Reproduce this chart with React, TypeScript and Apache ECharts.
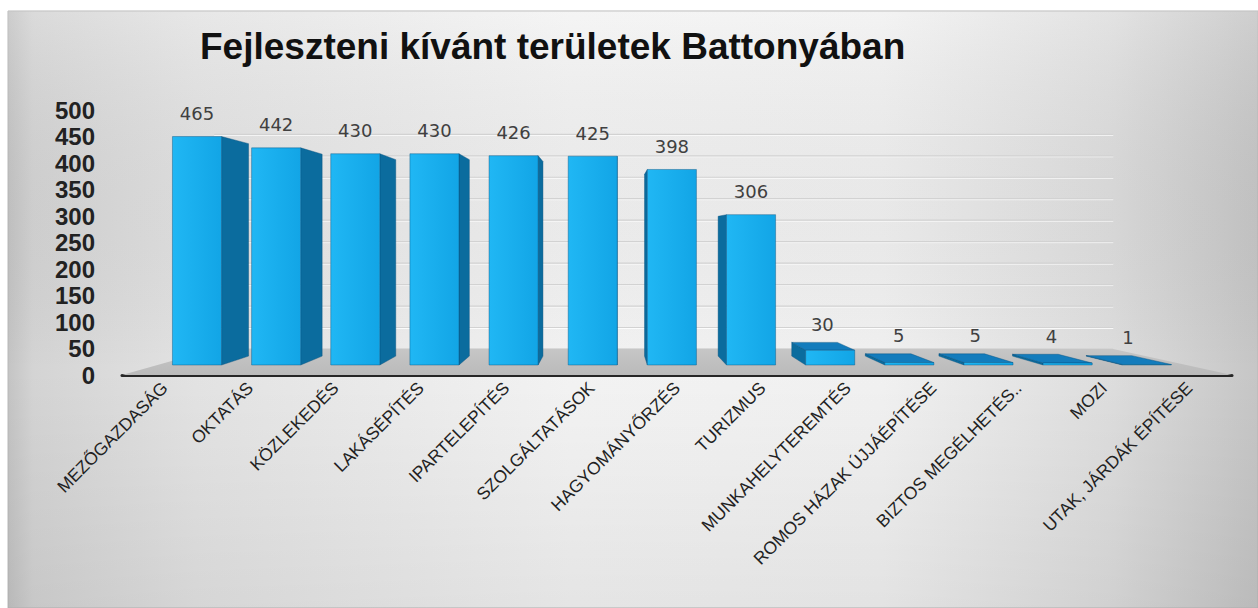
import React, { useEffect, useRef } from "react";
import * as echarts from "echarts";

const TITLE = "Fejleszteni kívánt területek Battonyában";
const CATEGORIES = [
  "MEZŐGAZDASÁG",
  "OKTATÁS",
  "KÖZLEKEDÉS",
  "LAKÁSÉPÍTÉS",
  "IPARTELEPÍTÉS",
  "SZOLGÁLTATÁSOK",
  "HAGYOMÁNYŐRZÉS",
  "TURIZMUS",
  "MUNKAHELYTEREMTÉS",
  "ROMOS HÁZAK ÚJJÁÉPÍTÉSE",
  "BIZTOS MEGÉLHETÉS..",
  "MOZI",
  "UTAK, JÁRDÁK ÉPÍTÉSE",
];
const VALUES = [465, 442, 430, 430, 426, 425, 398, 306, 30, 5, 5, 4, 1];
const Y_MIN = 0;
const Y_MAX = 500;
const Y_STEP = 50;
const Y_TICKS = [0, 50, 100, 150, 200, 250, 300, 350, 400, 450, 500];

// perspective (vanishing point and depth scales)
const VX = 607;
const VY = 238;
const K_FRONT = 0.927;
const K_BACK = 0.862;
const K_WALL = 0.81;
const BAR_RATIO = 0.62;

const P = (x: number, y: number, k: number) => [VX + (x - VX) * k, VY + (y - VY) * k];

function renderBar(params: any, api: any) {
  const i = api.value(0);
  const v = api.value(1);
  const top = api.coord([i, v]);
  const base = api.coord([i, 0]);
  const band = api.size([1, 0])[0];
  const hw = (band * BAR_RATIO) / 2;
  const l = top[0] - hw;
  const r = top[0] + hw;
  const t = top[1];
  const b = base[1];
  const fTL = P(l, t, K_FRONT), fTR = P(r, t, K_FRONT), fBL = P(l, b, K_FRONT), fBR = P(r, b, K_FRONT);
  const bTL = P(l, t, K_BACK), bTR = P(r, t, K_BACK), bBL = P(l, b, K_BACK), bBR = P(r, b, K_BACK);
  const children: any[] = [];
  const edge = "rgba(8,80,125,0.7)";
  if (top[0] < VX) {
    children.push({
      type: "polygon",
      shape: { points: [fTR, bTR, bBR, fBR] },
      style: { fill: "#0b6c9e", stroke: edge, lineWidth: 0.6 },
    });
  } else {
    children.push({
      type: "polygon",
      shape: { points: [fTL, bTL, bBL, fBL] },
      style: { fill: "#0b6c9e", stroke: edge, lineWidth: 0.6 },
    });
  }
  const topVisible = fTL[1] > VY;
  if (topVisible) {
    children.push({
      type: "polygon",
      shape: { points: [fTL, fTR, bTR, bTL] },
      style: { fill: "#137cbc", stroke: edge, lineWidth: 0.6 },
    });
  }
  children.push({
    type: "polygon",
    shape: { points: [fTL, fTR, fBR, fBL] },
    style: {
      fill: new echarts.graphic.LinearGradient(0, 0, 1, 0, [
        { offset: 0, color: "#20b7f4" },
        { offset: 1, color: "#12a5e6" },
      ]),
      stroke: edge,
      lineWidth: 0.6,
    },
  });
  const fcx = (fTL[0] + fTR[0]) / 2;
  const bcx = (bTL[0] + bTR[0]) / 2;
  const lx = topVisible ? (fcx + bcx) / 2 : fcx;
  const ly = topVisible ? Math.min(bTL[1], fTL[1]) - 18 : fTL[1] - 23;
  children.push({
    type: "text",
    style: {
      text: String(v),
      x: lx,
      y: ly,
      align: "center",
      verticalAlign: "middle",
      fontSize: 18,
      fontFamily: "DejaVu Sans",
      fill: "#404040",
    },
  });
  return { type: "group", children };
}

function renderFloor(params: any, api: any) {
  const band = api.size([1, 0])[0];
  const first = api.coord([0, 0]);
  const last = api.coord([CATEGORIES.length - 1, 0]);
  const L = first[0] - band / 2;
  const R = last[0] + band / 2;
  const y0 = first[1];
  const children: any[] = [];
  Y_TICKS.forEach((t) => {
    const y = api.coord([0, t])[1];
    const a = P(L, y, K_WALL);
    const c = P(R, y, K_WALL);
    children.push({
      type: "line",
      shape: { x1: a[0], y1: a[1] + 1, x2: c[0], y2: c[1] + 1 },
      style: { stroke: "rgba(255,255,255,0.8)", lineWidth: 1 },
    });
    children.push({
      type: "line",
      shape: { x1: a[0], y1: a[1], x2: c[0], y2: c[1] },
      style: { stroke: "#d2d2d2", lineWidth: 1.2 },
    });
  });
  children.push({
    type: "polygon",
    shape: { points: [[L, y0], [R, y0], P(R, y0, K_WALL), P(L, y0, K_WALL)] },
    style: {
      fill: new echarts.graphic.LinearGradient(0, 0, 0, 1, [
        { offset: 0, color: "#c6c6c6" },
        { offset: 1, color: "#bababa" },
      ]),
    },
  });
  return { type: "group", children };
}

export default function App() {
  const ref = useRef<HTMLDivElement>(null);
  useEffect(() => {
    if (!ref.current) return;
    const chart = echarts.init(ref.current, undefined, { renderer: "svg" });
    chart.setOption({
      animation: false,
      title: {
        text: TITLE,
        left: 195,
        top: 23,
        textStyle: { fontSize: 37, fontWeight: "bold", color: "#111", fontFamily: "Liberation Sans" },
      },
      graphic: [
        {
          type: "rect",
          z: -100,
          shape: { x: 8, y: 11, width: 1250, height: 597 },
          style: {
            fill: new echarts.graphic.LinearGradient(0, 0, 1, 0, [
              { offset: 0, color: "#c4c4c4" },
              { offset: 0.02, color: "#d4d4d4" },
              { offset: 0.15, color: "#e3e3e3" },
              { offset: 0.45, color: "#f3f3f3" },
              { offset: 0.7, color: "#f1f1f1" },
              { offset: 0.88, color: "#dedede" },
              { offset: 1, color: "#c6c6c6" },
            ]),
            stroke: "#b8b8b8",
            lineWidth: 1,
          },
        },
        {
          type: "rect",
          z: -99,
          shape: { x: 8, y: 11, width: 1250, height: 597 },
          style: {
            fill: new echarts.graphic.LinearGradient(0, 0, 0, 1, [
              { offset: 0, color: "rgba(255,255,255,0.15)" },
              { offset: 0.6, color: "rgba(0,0,0,0)" },
              { offset: 1, color: "rgba(0,0,0,0.06)" },
            ]),
          },
        },
      ],
      grid: { left: 122, right: 26, top: 110, bottom: 233 },
      xAxis: {
        type: "category",
        data: CATEGORIES,
        axisLine: { lineStyle: { color: "#262626", width: 3 } },
        axisTick: { show: false },
        axisLabel: {
          interval: 0,
          rotate: 45,
          margin: 10,
          fontSize: 17.5,
          color: "#222",
          fontFamily: "Liberation Sans",
        },
      },
      yAxis: {
        type: "value",
        min: Y_MIN,
        max: Y_MAX,
        interval: Y_STEP,
        axisLine: { show: false },
        axisTick: { show: false },
        splitLine: { show: false },
        axisLabel: {
          margin: 27,
          fontSize: 24,
          fontWeight: "bold",
          color: "#222",
          fontFamily: "Liberation Sans",
        },
      },
      series: [
        {
          type: "custom",
          z: 1,
          clip: false,
          renderItem: renderFloor,
          data: [[0, 0]],
          silent: true,
        },
        {
          type: "custom",
          z: 3,
          clip: false,
          renderItem: renderBar,
          data: CATEGORIES.map((c, i) => [i, VALUES[i]]),
        },
      ],
    });
    return () => chart.dispose();
  }, []);
  return (
    <div
      ref={ref}
      style={{ position: "fixed", left: 0, top: 0, width: 1258, height: 608, background: "#fff" }}
    />
  );
}
